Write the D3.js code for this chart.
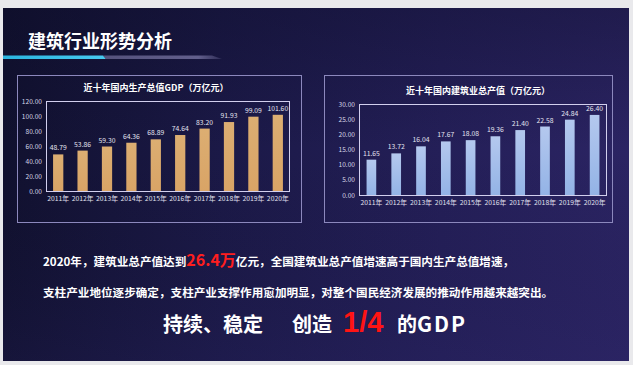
<!DOCTYPE html>
<html><head><meta charset="utf-8">
<script src="https://cdn.jsdelivr.net/npm/d3@7/dist/d3.min.js"></script>
<style>
html,body{margin:0;padding:0;background:#e9e9ec;}
svg{display:block;}
text{font-family:"Noto Sans CJK SC","Noto Sans",sans-serif;}
</style></head><body>
<svg id="c" width="633" height="365"></svg>
<script>
const years = ["2011年","2012年","2013年","2014年","2015年","2016年","2017年","2018年","2019年","2020年"];
const gdpValues = [48.79, 53.86, 59.30, 64.36, 68.89, 74.64, 83.20, 91.93, 99.09, 101.60];
const buildValues = [11.65, 13.72, 16.04, 17.67, 18.08, 19.36, 21.40, 22.58, 24.84, 26.40];
const gdpTicks = [0, 20, 40, 60, 80, 100, 120];
const buildTicks = [0, 5, 10, 15, 20, 25, 30];
const pageTitle = "建筑行业形势分析";
const gdpTitle = "近十年国内生产总值GDP（万亿元）";
const buildTitle = "近十年国内建筑业总产值（万亿元）";

const svg = d3.select("#c");
const defs = svg.append("defs");
const bg = defs.append("linearGradient").attr("id","bg").attr("x1","0").attr("x2","1").attr("y1","0").attr("y2","0");
bg.append("stop").attr("offset","0%").attr("stop-color","#11112f");
bg.append("stop").attr("offset","35%").attr("stop-color","#1b1947");
bg.append("stop").attr("offset","70%").attr("stop-color","#241f58");
bg.append("stop").attr("offset","100%").attr("stop-color","#2b2463");
const bg2 = defs.append("linearGradient").attr("id","bg2").attr("x1","0").attr("x2","0").attr("y1","0").attr("y2","1");
bg2.append("stop").attr("offset","0%").attr("stop-color","#0c0c26").attr("stop-opacity",0.35);
bg2.append("stop").attr("offset","40%").attr("stop-color","#0c0c26").attr("stop-opacity",0);
bg2.append("stop").attr("offset","100%").attr("stop-color","#2a2465").attr("stop-opacity",0.2);
const gold = defs.append("linearGradient").attr("id","gold").attr("x1","0").attr("x2","0").attr("y1","0").attr("y2","1");
gold.append("stop").attr("offset","0%").attr("stop-color","#dcae72");
gold.append("stop").attr("offset","100%").attr("stop-color","#d9a466");
const blue = defs.append("linearGradient").attr("id","blue").attr("x1","0").attr("x2","0").attr("y1","0").attr("y2","1");
blue.append("stop").attr("offset","0%").attr("stop-color","#b4c8ee");
blue.append("stop").attr("offset","100%").attr("stop-color","#93b3e6");
const cyanG = defs.append("linearGradient").attr("id","cy").attr("x1","0").attr("x2","1");
cyanG.append("stop").attr("offset","0%").attr("stop-color","#2bb5df");
cyanG.append("stop").attr("offset","100%").attr("stop-color","#47c9ef");
const greyG = defs.append("linearGradient").attr("id","gy").attr("x1","0").attr("x2","1");
greyG.append("stop").attr("offset","0%").attr("stop-color","#55527c");
greyG.append("stop").attr("offset","80%").attr("stop-color","#625f8c");
greyG.append("stop").attr("offset","100%").attr("stop-color","#625f8c").attr("stop-opacity",0.3);

// slide
svg.append("rect").attr("x",3).attr("y",8).attr("width",626).attr("height",353).attr("fill","url(#bg)");
svg.append("rect").attr("x",3).attr("y",8).attr("width",626).attr("height",353).attr("fill","url(#bg2)");

// title
svg.append("text").attr("x",28).attr("y",48).attr("fill","#ffffff").attr("font-size",18).attr("font-weight","bold").text(pageTitle);
svg.append("path").attr("d","M3,55.5 L103,55.5 L106,59 L3,59 Z").attr("fill","url(#cy)");
svg.append("path").attr("d","M103,55.5 L212,55.5 L222,59 L106,59 Z").attr("fill","url(#gy)");

// panels
svg.append("rect").attr("x",17.5).attr("y",75.5).attr("width",284).attr("height",147).attr("fill","none").attr("stroke","#8c88bd").attr("stroke-width",1);
svg.append("rect").attr("x",324.5).attr("y",75.5).attr("width",288).attr("height",147).attr("fill","none").attr("stroke","#8c88bd").attr("stroke-width",1);

function drawChart(cfg){
  const g = svg.append("g");
  const x = d3.scaleBand().domain(years).range([cfg.x0, cfg.x1]).paddingInner(0).paddingOuter(0);
  const y = d3.scaleLinear().domain([0, cfg.max]).range([cfg.y0, cfg.y1]);
  const bw = x.step()*cfg.bwFrac;
  g.selectAll("rect.bar").data(cfg.values).join("rect")
    .attr("class","bar")
    .attr("x",(d,i)=>x(years[i]) + x.step()/2 - bw/2)
    .attr("y",d=>y(d))
    .attr("width",bw)
    .attr("height",d=>y(0)-y(d))
    .attr("fill",cfg.fill);
  g.selectAll("text.val").data(cfg.values).join("text")
    .attr("class","val")
    .attr("x",(d,i)=>x(years[i]) + x.step()/2)
    .attr("y",d=>y(d)-4)
    .attr("text-anchor","middle")
    .attr("font-size",6.8)
    .attr("fill","#e4e4f0")
    .text(d=>d.toFixed(2));
  // frame
  g.append("rect").attr("x",cfg.x0+0.5).attr("y",cfg.y1+0.5).attr("width",cfg.x1-cfg.x0-1).attr("height",cfg.y0-cfg.y1)
    .attr("fill","none").attr("stroke","#d2cfee").attr("stroke-width",1);
  const ya = d3.axisLeft(y).tickValues(cfg.ticks).tickFormat(d3.format(".2f")).tickSize(0).tickPadding(4);
  const yg = g.append("g").attr("transform",`translate(${cfg.x0},0)`).call(ya);
  yg.select(".domain").remove();
  yg.selectAll("text").attr("font-size",6.6).attr("fill","#d6d6e6").attr("font-family",'"Noto Sans CJK SC","Noto Sans",sans-serif');
  const xa = d3.axisBottom(x).tickSize(0).tickPadding(5);
  const xg = g.append("g").attr("transform",`translate(0,${cfg.y0})`).call(xa);
  xg.select(".domain").remove();
  xg.selectAll("text").attr("font-size",6.8).attr("fill","#e0e0ee").attr("font-family",'"Noto Sans CJK SC","Noto Sans",sans-serif');
  g.append("text").attr("x",cfg.tx).attr("y",cfg.ty).attr("text-anchor","middle").attr("font-size",9).attr("font-weight","bold").attr("fill","#ffffff").text(cfg.title);
}
drawChart({x0:46,x1:290,y0:191,y1:101,max:120,values:gdpValues,ticks:gdpTicks,fill:"url(#gold)",bwFrac:0.42,title:gdpTitle,tx:156,ty:90.5});
drawChart({x0:359,x1:607,y0:195,y1:104,max:30,values:buildValues,ticks:buildTicks,fill:"url(#blue)",bwFrac:0.39,title:buildTitle,tx:478,ty:94});

// paragraph
const t1 = svg.append("text").attr("x",43).attr("y",266).attr("font-size",11.6).attr("font-weight","bold").attr("fill","#ffffff");
t1.append("tspan").text("2020年，建筑业总产值达到");
t1.append("tspan").attr("fill","#ff1e1e").attr("font-size",16).text("26.4万");
t1.append("tspan").text("亿元，全国建筑业总产值增速高于国内生产总值增速，");
svg.append("text").attr("x",43).attr("y",297).attr("font-size",11.6).attr("font-weight","bold").attr("fill","#ffffff")
  .text("支柱产业地位逐步确定，支柱产业支撑作用愈加明显，对整个国民经济发展的推动作用越来越突出。");
const t3 = svg.append("text").attr("x",163).attr("y",332).attr("font-size",20).attr("font-weight","bold").attr("fill","#ffffff");
t3.append("tspan").text("持续、稳定");
t3.append("tspan").attr("x",292).text("创造");
t3.append("tspan").attr("x",343).attr("fill","#ff1414").attr("font-size",29).attr("font-family","Liberation Sans, Arial, sans-serif").text("1/4");
t3.append("tspan").attr("x",397).text("的");
t3.append("tspan").attr("letter-spacing",2).attr("font-size",21).text("GDP");
</script>
</body></html>
